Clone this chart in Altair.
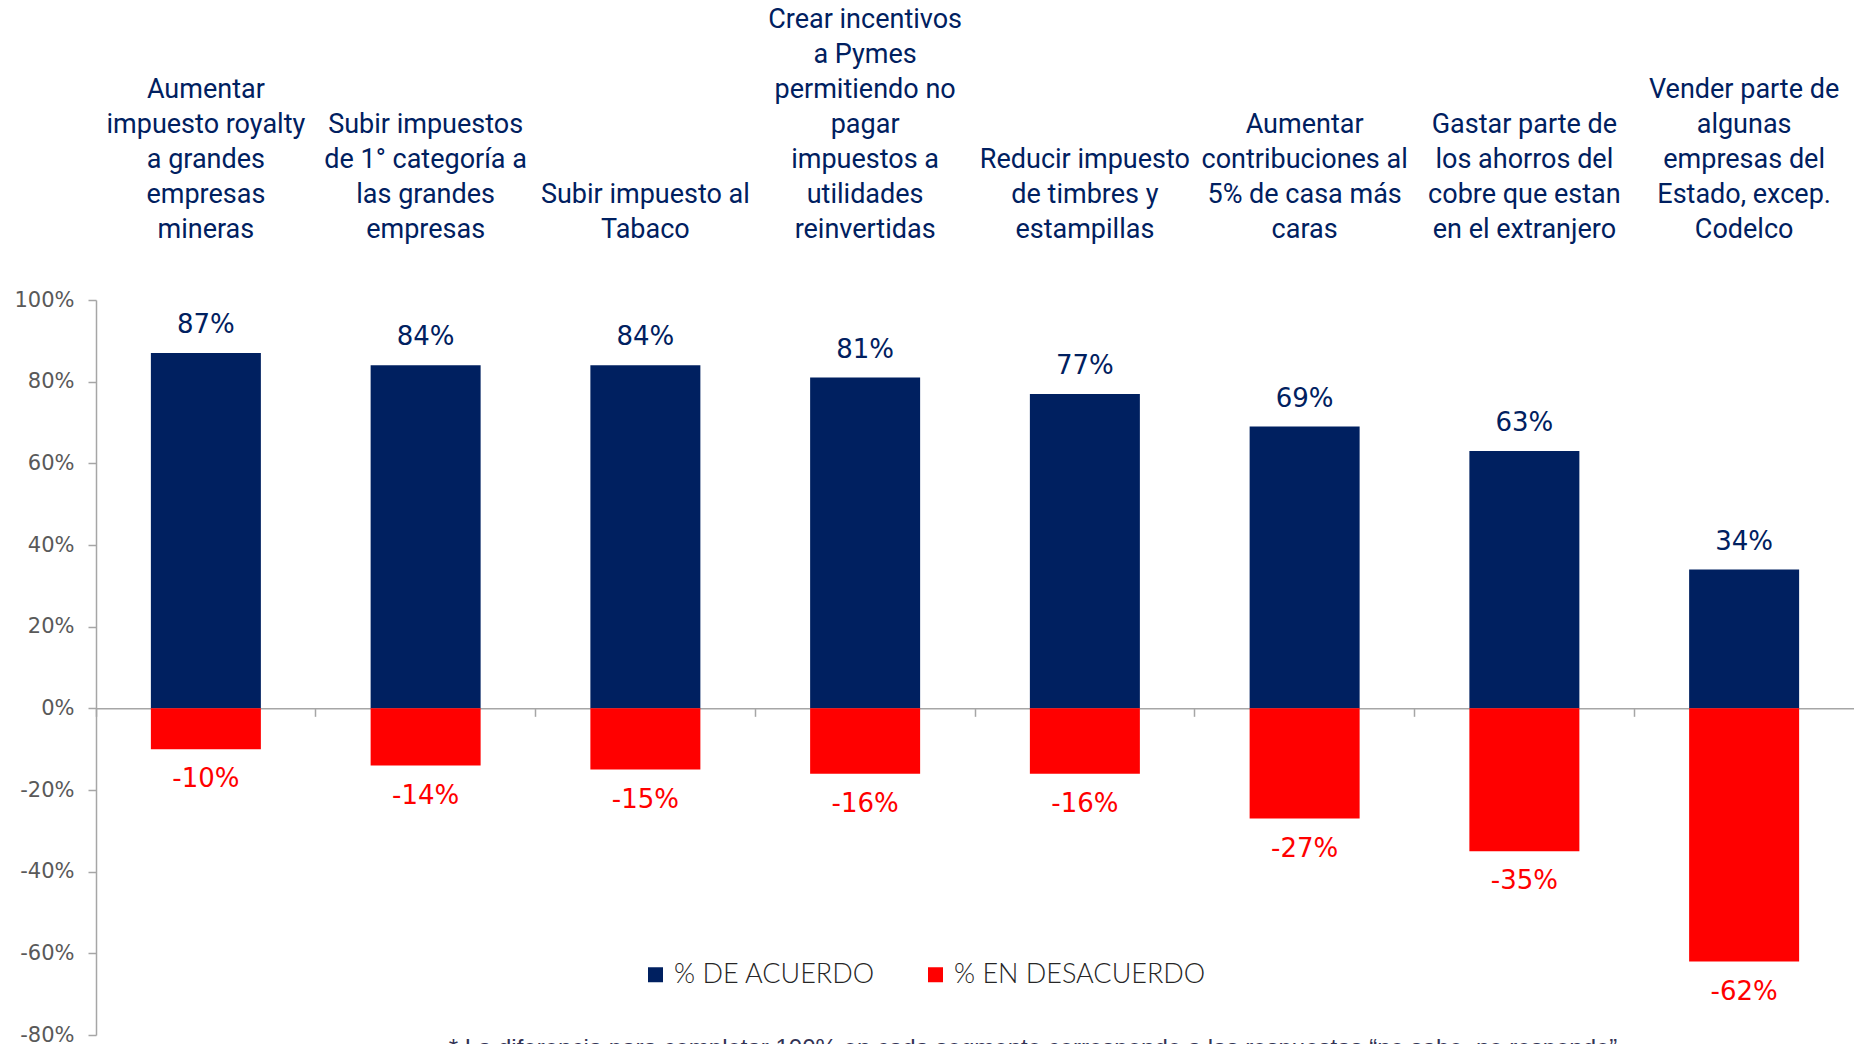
import altair as alt
import pandas as pd

categories = [
    "Aumentar\nimpuesto royalty\na grandes\nempresas\nmineras",
    "Subir impuestos\nde 1° categoría a\nlas grandes\nempresas",
    "Subir impuesto al\nTabaco",
    "Crear incentivos\na Pymes\npermitiendo no\npagar\nimpuestos a\nutilidades\nreinvertidas",
    "Reducir impuesto\nde timbres y\nestampillas",
    "Aumentar\ncontribuciones al\n5% de casa más\ncaras",
    "Gastar parte de\nlos ahorros del\ncobre que estan\nen el extranjero",
    "Vender parte de\nalgunas\nempresas del\nEstado, excep.\nCodelco",
]
agree = [87, 84, 84, 81, 77, 69, 63, 34]
disagree = [-10, -14, -15, -16, -16, -27, -35, -62]
series_names = ["% DE ACUERDO", "% EN DESACUERDO"]
series_colors = ["#002060", "#FF0000"]
y_ticks = [-80, -60, -40, -20, 0, 20, 40, 60, 80, 100]
footnote = "* La diferencia para completar 100% en cada segmento corresponde a las respuestas \u201cno sabe, no responde\u201d"

rows = []
for c, a, d in zip(categories, agree, disagree):
    rows.append({"cat": c, "series": series_names[0], "value": a, "label": f"{a}%"})
    rows.append({"cat": c, "series": series_names[1], "value": d, "label": f"{d}%"})
df = pd.DataFrame(rows)

line_rows = []
for c in categories:
    parts = c.split("\n")
    n = len(parts)
    for i, p in enumerate(parts):
        line_rows.append({"cat": c, "line": p, "k": n - 1 - i})
lines_df = pd.DataFrame(line_rows)

W, H = 1758, 735
zero_from_bottom = H * 80 / 180
LINE_H = 35
LAST_LINE_Y = -56

x_enc = alt.X(
    "cat:N", sort=categories,
    scale=alt.Scale(paddingInner=0, paddingOuter=0),
    axis=alt.Axis(labels=False, title=None, grid=False, domainColor="#A6A6A6",
                  domainWidth=1.5, tickColor="#A6A6A6", tickWidth=1.5, tickSize=8,
                  bandPosition=0, offset=-zero_from_bottom),
)
y_enc = alt.Y(
    "value:Q",
    scale=alt.Scale(domain=[-80, 100], nice=False, zero=False),
    axis=alt.Axis(values=y_ticks, labelExpr="datum.value + '%'", title=None, grid=False,
                  domainColor="#A6A6A6", domainWidth=1.5, tickColor="#A6A6A6",
                  tickWidth=1.5, tickSize=8, labelFontSize=21, labelFont="DejaVu Sans",
                  labelColor="#595959", labelPadding=14),
)

bars = alt.Chart(df).mark_bar(size=110).encode(
    x=x_enc, y=y_enc,
    color=alt.Color("series:N", scale=alt.Scale(domain=series_names, range=series_colors),
                    legend=alt.Legend(orient="none", legendX=546, legendY=661,
                                      direction="horizontal", title=None,
                                      symbolType="square", symbolSize=225,
                                      symbolStrokeWidth=0, labelFontSize=27,
                                      labelFont="Lato", labelFontWeight=300,
                                      labelColor="#262626", columnPadding=47,
                                      labelOffset=5, padding=0, labelLimit=600)),
)

pos_text = alt.Chart(df).transform_filter("datum.value >= 0").mark_text(
    baseline="middle", dy=-28, fontSize=26, font="DejaVu Sans", color="#002060"
).encode(x=alt.X("cat:N", sort=categories), y="value:Q", text="label:N")

neg_text = alt.Chart(df).transform_filter("datum.value < 0").mark_text(
    baseline="middle", dy=30, fontSize=26, font="DejaVu Sans", color="#FF0000"
).encode(x=alt.X("cat:N", sort=categories), y="value:Q", text="label:N")

cat_text = alt.Chart(lines_df).transform_calculate(
    py=f"{LAST_LINE_Y} - datum.k * {LINE_H}"
).mark_text(
    baseline="bottom", align="center", fontSize=27, font="Roboto", color="#002060"
).encode(x=alt.X("cat:N", sort=categories), y=alt.Y("py:Q", scale=None), text="line:N")

foot = alt.Chart(pd.DataFrame({"t": [footnote]})).mark_text(
    baseline="top", align="center", fontSize=24, font="Liberation Sans", color="#333355"
).encode(x=alt.value(937), y=alt.value(737), text="t:N")

chart = alt.layer(bars, pos_text, neg_text, cat_text, foot).properties(
    width=W, height=H,
    autosize=alt.AutoSizeParams(type="none"),
    padding={"left": 88, "top": 292, "right": 0, "bottom": 30},
).configure_view(stroke=None)

chart.save("out.html", embed_options={"renderer": "svg", "actions": False})
